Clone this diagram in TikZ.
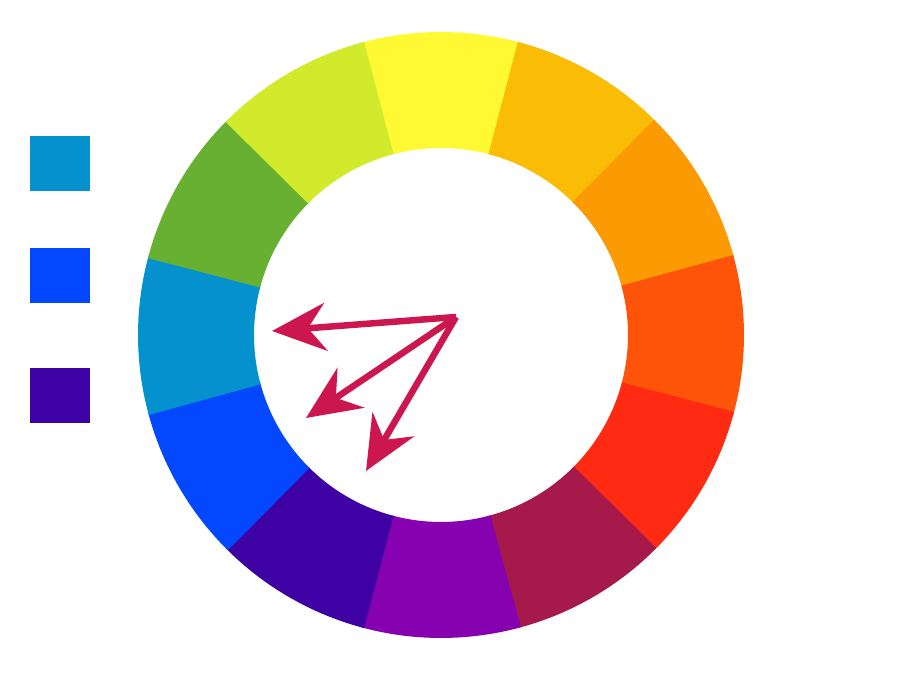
\documentclass[tikz,border=0pt]{standalone}
\usetikzlibrary{arrows.meta,calc}

\definecolor{wYellow}{HTML}{FEF933}
\definecolor{wAmber}{HTML}{FABC05}
\definecolor{wOrange}{HTML}{FB9A02}
\definecolor{wVermil}{HTML}{FE5409}
\definecolor{wRed}{HTML}{FE2A12}
\definecolor{wMagenta}{HTML}{A6194B}
\definecolor{wViolet}{HTML}{8601AF}
\definecolor{wIndigo}{HTML}{3D01A4}
\definecolor{wBlue}{HTML}{0347FE}
\definecolor{wTeal}{HTML}{0491CD}
\definecolor{wGreen}{HTML}{68B032}
\definecolor{wLime}{HTML}{D1EA2C}
\definecolor{wArrow}{HTML}{CC1650}

\begin{document}
\begin{tikzpicture}[
    x=1pt, y=1pt,
    swatch/.style={rectangle, inner sep=0pt, minimum width=60pt, minimum height=55pt},
    pointer/.style={-{Stealth[length=54pt, width=48pt, inset=18pt]}, line width=6.5pt, wArrow}
]

\useasboundingbox (0,0) rectangle (900,700);

% colour wheel
\coordinate (C) at (441,365);
\foreach \ang/\col in {90/wYellow, 60/wAmber, 30/wOrange, 0/wVermil,
    -30/wRed, -60/wMagenta, -90/wViolet, -120/wIndigo,
    -150/wBlue, 180/wTeal, 150/wGreen, 120/wLime}{
  \fill[\col] ($(C)+(\ang-15.3:187)$) arc[start angle=\ang-15.3, end angle=\ang+15.3, radius=187]
    -- ($(C)+(\ang+15.3:303)$) arc[start angle=\ang+15.3, end angle=\ang-15.3, radius=303] -- cycle;
}

% swatches
\node[swatch, fill=wTeal] (S1) at (60,536.5){};
\node[swatch, fill=wBlue] (S2) at (60,424.5){};
\node[swatch, fill=wIndigo] (S3) at (60,304.5){};

% arrows
\coordinate (O) at (456,383);
\coordinate (T1) at (272,369);
\coordinate (T2) at (306,282);
\coordinate (T3) at (366,229);
\draw[pointer] (O) -- (T1);
\draw[pointer] (O) -- (T2);
\draw[pointer] (O) -- (T3);

\end{tikzpicture}
\end{document}
